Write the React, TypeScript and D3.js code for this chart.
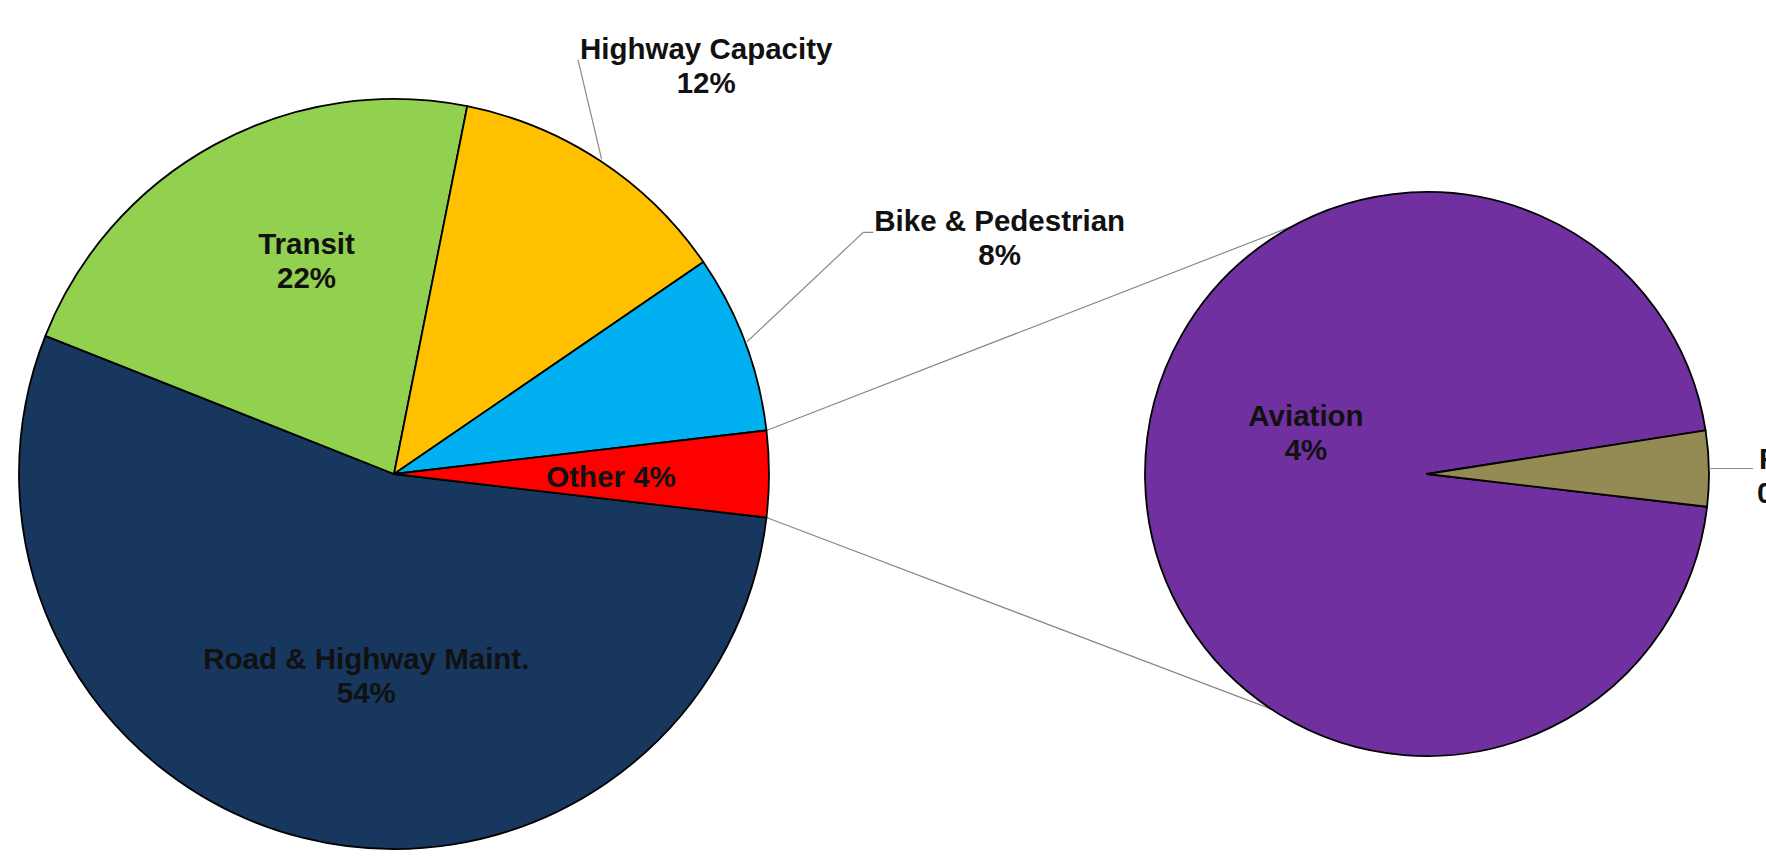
import React, { useEffect, useRef } from "react";
import * as d3 from "d3";

// main pie
const categories = ["Road & Highway Maint.", "Transit", "Highway Capacity", "Bike & Pedestrian", "Other"];
const shares = [54.1, 22.1, 12.3, 7.7, 3.7];
const shareLabels = ["54%", "22%", "12%", "8%", "4%"];
const colors = ["#17375E", "#92D050", "#FFC000", "#00B0F0", "#FF0000"];

// breakdown of "Other" (second pie)
const otherCategories = ["Aviation", "Rail"];
const otherShares = [3.54, 0.16];
const otherLabels = ["4%", "0%"];
const otherColors = ["#7030A0", "#948A54"];

const W = 1766;
const H = 865;
const FONT = "'Liberation Sans', Arial, sans-serif";

const App = () => {
  const ref = useRef<SVGSVGElement>(null);

  useEffect(() => {
    document.body.style.margin = "0";
    const svg = d3.select(ref.current);
    svg.selectAll("*").remove();

    const main = { cx: 394, cy: 474, r: 375 };
    const sub = { cx: 1427, cy: 474, r: 282 };
    const rad = (deg: number) => (deg * Math.PI) / 180;
    const polar = (c: any, r: number, a: number): [number, number] => [
      c.cx + r * Math.sin(a),
      c.cy - r * Math.cos(a),
    ];

    // Excel centres the split slice on 3 o'clock
    const total = d3.sum(shares);
    const otherAngle = (shares[4] / total) * 2 * Math.PI;
    const start = Math.PI / 2 + otherAngle / 2;

    const pie = d3
      .pie<number>()
      .sort(null)
      .value((d) => d)
      .startAngle(start)
      .endAngle(start + 2 * Math.PI);
    const arcs = pie(shares);
    const subArcs = pie(otherShares);

    const arcMain = d3.arc<d3.PieArcDatum<number>>().innerRadius(0).outerRadius(main.r);
    const arcSub = d3.arc<d3.PieArcDatum<number>>().innerRadius(0).outerRadius(sub.r);

    // connector lines between the "Other" slice and the second pie
    const other = arcs[4];
    const conn = [
      [polar(main, main.r, other.startAngle), polar(sub, sub.r, rad(331.5))],
      [polar(main, main.r, other.endAngle), polar(sub, sub.r, rad(213.5))],
    ];
    svg
      .append("g")
      .selectAll("line")
      .data(conn)
      .join("line")
      .attr("x1", (d) => d[0][0])
      .attr("y1", (d) => d[0][1])
      .attr("x2", (d) => d[1][0])
      .attr("y2", (d) => d[1][1])
      .attr("stroke", "#8a8a8a")
      .attr("stroke-width", 1.2);

    svg
      .append("g")
      .attr("transform", `translate(${main.cx},${main.cy})`)
      .selectAll("path")
      .data(arcs)
      .join("path")
      .attr("d", arcMain)
      .attr("fill", (d, i) => colors[i])
      .attr("stroke", "#000")
      .attr("stroke-width", 1.8)
      .attr("stroke-linejoin", "round");

    svg
      .append("g")
      .attr("transform", `translate(${sub.cx},${sub.cy})`)
      .selectAll("path")
      .data(subArcs)
      .join("path")
      .attr("d", arcSub)
      .attr("fill", (d, i) => otherColors[i])
      .attr("stroke", "#000")
      .attr("stroke-width", 1.8)
      .attr("stroke-linejoin", "round");

    const mid = (d: d3.PieArcDatum<number>) => (d.startAngle + d.endAngle) / 2;

    // label placement: radial factor k and angle nudge da (degrees) off the slice middle
    const mainLayout = [
      { k: 0.541, da: -6.3, lines: 2 },
      { k: 0.616, da: 6.3, lines: 2 },
      { k: 1.373, da: 3.9, lines: 2 },
      { k: 1.734, da: -0.8, lines: 2 },
      { k: 0.579, da: 0.75, lines: 1 },
    ];

    const labels = svg
      .append("g")
      .attr("font-family", FONT)
      .attr("font-weight", "bold")
      .attr("font-size", 29.5)
      .attr("fill", "#111");

    const drawLabel = (x: number, y: number, name: string, pct: string, lines: number) => {
      const t = labels.append("text").attr("text-anchor", "middle");
      if (lines === 1) {
        t.append("tspan").attr("x", x).attr("y", y + 10).text(`${name} ${pct}`);
      } else {
        t.append("tspan").attr("x", x).attr("y", y - 6).text(name);
        t.append("tspan").attr("x", x).attr("y", y + 28).text(pct);
      }
      return t;
    };

    const leaders = svg.append("g").attr("fill", "none").attr("stroke", "#8a8a8a").attr("stroke-width", 1.2);

    arcs.forEach((d, i) => {
      const L = mainLayout[i];
      const [x, y] = polar(main, main.r * L.k, mid(d) + rad(L.da));
      const t = drawLabel(x, y, categories[i], shareLabels[i], L.lines);
      if (L.k > 1) {
        const w = (t.select("tspan").node() as SVGTextContentElement).getComputedTextLength();
        const left = x - w / 2;
        const rim = polar(main, main.r + 2, mid(d));
        const by = y - 5;
        const pts: [number, number][] =
          i === 3
            ? [rim, [left - 11, by], [left - 1, by]]
            : [rim, [left - 2, by]];
        leaders.append("path").attr("d", d3.line()(pts));
      }
    });

    // second pie labels
    const av = subArcs[0];
    const [ax, ay] = polar(sub, sub.r * 0.454, mid(av) + rad(20.2));
    drawLabel(ax, ay, otherCategories[0], otherLabels[0], 2);

    const rail = subArcs[1];
    const rr = polar(sub, sub.r, mid(rail));
    leaders.append("path").attr("d", d3.line()([rr, [rr[0] + 44, rr[1]]]));
    const rt = labels.append("text").attr("text-anchor", "start");
    rt.append("tspan").attr("x", rr[0] + 50).attr("y", rr[1]).text(otherCategories[1]);
    rt.append("tspan").attr("x", rr[0] + 48).attr("y", rr[1] + 34).text(otherLabels[1]);
  }, []);

  return (
    <div style={{ width: W, height: H, overflow: "hidden" }}>
      <svg ref={ref} width={W} height={H} style={{ display: "block", background: "#fff" }}></svg>
    </div>
  );
};

export default App;
